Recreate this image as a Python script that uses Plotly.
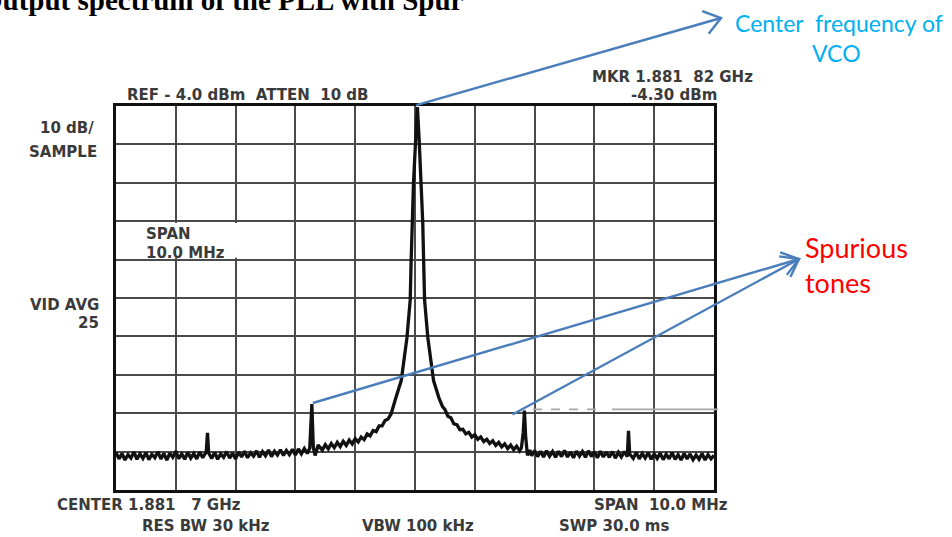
import math
import plotly.graph_objects as go

# ---------------- data ----------------
# frequency offset from centre (MHz, 1 MHz/div, span 10 MHz) and level (dBm)
left_floor_mhz = [
    -5.00, -4.95, -4.90, -4.85, -4.80, -4.75, -4.70, -4.65, -4.60, -4.55, -4.50, -4.45, -4.40, -4.35,
    -4.30, -4.25, -4.20, -4.15, -4.10, -4.05, -4.00, -3.95, -3.90, -3.85, -3.80, -3.75, -3.70, -3.65,
    -3.60, -3.55, -3.50, -3.49, -3.47, -3.45, -3.40, -3.35, -3.30, -3.25, -3.20, -3.15, -3.10, -3.05,
    -3.00, -2.95, -2.90, -2.85, -2.80, -2.75, -2.70, -2.65, -2.60, -2.55, -2.50, -2.45, -2.40, -2.35,
    -2.30, -2.25, -2.20, -2.15, -2.10, -2.05, -2.00, -1.95, -1.90, -1.85, -1.80, -1.76, -1.725, -1.70,
    -1.67, -1.62,
]
left_floor_dbm = [
    -94.2, -95.9, -94.5, -96.2, -94.8, -95.7, -94.1, -96.0, -94.6, -95.8, -94.3, -96.1, -94.7, -95.6,
    -94.0, -95.9, -94.5, -96.2, -94.4, -95.5, -93.9, -95.8, -94.6, -96.0, -94.2, -95.7, -94.5, -95.9,
    -94.1, -95.6, -94.3, -93.8, -89.1, -94.4, -95.8, -94.2, -96.0, -94.6, -95.5, -94.0, -95.7, -94.4,
    -95.9, -94.1, -95.4, -93.9, -95.6, -94.3, -95.2, -93.8, -95.5, -94.0, -95.1, -93.6, -95.3, -93.9,
    -94.9, -93.5, -95.0, -93.7, -94.8, -93.4, -94.9, -93.3, -94.6, -93.2, -94.5, -93.1, -81.6, -93.0,
    -95.0, -92.3,
]
carrier_mhz = [
    -1.55, -1.50, -1.45, -1.40, -1.35, -1.30, -1.25, -1.20, -1.15, -1.10, -1.05, -1.00, -0.95, -0.90,
    -0.85, -0.80, -0.75, -0.70, -0.65, -0.60, -0.55, -0.50, -0.45, -0.40, -0.32, -0.23, -0.135, -0.08,
    -0.065, -0.05, -0.025, 0.01, 0.04, 0.07, 0.105, 0.13, 0.145, 0.16, 0.215, 0.31, 0.40, 0.46, 0.50,
    0.55, 0.60, 0.65, 0.70, 0.75, 0.80, 0.85, 0.90, 0.95, 1.00, 1.05, 1.10, 1.15, 1.20, 1.25, 1.30,
    1.35, 1.40, 1.45, 1.50, 1.55, 1.60, 1.65, 1.70, 1.75, 1.78, 1.81, 1.83, 1.85, 1.88, 1.92,
]
carrier_dbm = [
    -93.6, -92.2, -93.3, -91.9, -93.0, -91.6, -92.7, -91.3, -92.4, -91.0, -92.0, -90.6, -91.5, -90.2,
    -90.9, -89.4, -89.9, -88.5, -88.8, -87.3, -87.3, -85.9, -85.5, -84.2, -80.0, -75.5, -64.4, -54.5,
    -44.6, -34.5, -24.0, -13.0, -4.3, -13.0, -24.0, -34.5, -44.6, -54.5, -64.4, -75.5, -80.0, -82.3, -83.0,
    -84.8, -85.2, -86.8, -87.0, -88.3, -88.2, -89.4, -89.0, -90.2, -89.6, -90.8, -90.2, -91.4, -90.8, -91.9,
    -91.2, -92.4, -91.6, -92.8, -92.0, -93.2, -92.3, -93.5, -92.6, -93.8, -93.0, -89.0, -83.3, -90.0, -95.0,
    -93.6,
]
right_floor_mhz = [
    1.95, 2.00, 2.05, 2.10, 2.15, 2.20, 2.25, 2.30, 2.35, 2.40, 2.45, 2.50, 2.55, 2.60, 2.65, 2.70,
    2.75, 2.80, 2.85, 2.90, 2.95, 3.00, 3.05, 3.10, 3.15, 3.20, 3.25, 3.30, 3.35, 3.40, 3.45, 3.50,
    3.55, 3.57, 3.59, 3.65, 3.70, 3.75, 3.80, 3.85, 3.90, 3.95, 4.00, 4.05, 4.10, 4.15, 4.20, 4.25,
    4.30, 4.35, 4.40, 4.45, 4.50, 4.55, 4.60, 4.65, 4.70, 4.75, 4.80, 4.85, 4.90, 4.95, 5.00,
]
right_floor_dbm = [
    -95.1, -93.7, -95.3, -93.9, -95.4, -93.8, -95.2, -94.0, -95.5, -93.9, -95.3, -93.7, -95.4, -94.1,
    -95.6, -93.9, -95.2, -94.0, -95.5, -93.8, -95.3, -94.0, -95.6, -93.9, -95.4, -94.1, -95.5, -94.0,
    -95.7, -94.2, -95.4, -94.0, -95.3, -88.6, -94.6, -95.8, -94.2, -95.9, -94.5, -95.7, -94.3, -96.0,
    -94.6, -95.8, -94.4, -96.1, -94.7, -95.9, -94.3, -96.0, -94.8, -96.2, -94.5, -95.9, -94.6, -96.1,
    -94.9, -96.0, -94.5, -96.2, -94.8, -95.9, -95.0,
]

REF_LEVEL_DBM = -4.0
DB_PER_DIV = 10
N_DIV = 10
SPAN_MHZ = 10.0
DISPLAY_LINE_DBM = -83.0

peak_point = (0.04, -4.3)
left_spur = (-1.725, -81.6)
right_spur = (1.83, -83.3)

header_left = "REF - 4.0 dBm\u00a0 ATTEN\u00a0 10 dB"
marker_line1 = "MKR 1.881\u00a0 82 GHz"
marker_line2 = "-4.30 dBm"
scale_lines = ["10 dB/", "SAMPLE"]
span_lines = ["SPAN", "10.0 MHz"]
vid_lines = ["VID AVG", "25"]
footer_center = "CENTER 1.881\u00a0\u00a0 7 GHz"
footer_span = "SPAN\u00a0 10.0 MHz"
footer_res = "RES BW 30 kHz"
footer_vbw = "VBW 100 kHz"
footer_swp = "SWP 30.0 ms"
title_text = "Output spectrum of the PLL with Spur"
vco_lines = ["Center\u00a0 frequency of", "VCO"]
spur_lines = ["Spurious", "tones"]

freq_offset_mhz = left_floor_mhz + carrier_mhz + right_floor_mhz
level_dbm = left_floor_dbm + carrier_dbm + right_floor_dbm

# ---------------- geometry ----------------
W, H = 952, 537
L, R, T, B = 116, 238, 106, 47
PW, PH = W - L - R, H - T - B
X0, X1 = -SPAN_MHZ / 2, SPAN_MHZ / 2
Y1 = REF_LEVEL_DBM
Y0 = REF_LEVEL_DBM - DB_PER_DIV * N_DIV


def dpx(x):
    return L + (x - X0) / (X1 - X0) * PW


def dpy(y):
    return T + (Y1 - y) / (Y1 - Y0) * PH


def pp(px, py):
    return (px - L) / PW, (H - B - py) / PH


fig = go.Figure()
fig.add_trace(go.Scatter(
    x=freq_offset_mhz, y=level_dbm, mode="lines",
    line=dict(color="#111111", width=3.3), hoverinfo="skip", showlegend=False,
))

shapes = []

# white box behind the SPAN text (hides grid there)
shapes.append(dict(type="rect", xref="x", yref="y", layer="between",
                   x0=X0 + 0.03, x1=-2.06, y0=-34.45, y1=-43.55,
                   fillcolor="white", line=dict(width=0)))

# display line (dashed part + solid part)
dl_y = dpy(DISPLAY_LINE_DBM)
for xa, xb, dash in [(533, 600, "dash"), (612, 718, "solid")]:
    a = pp(xa, dl_y)
    b = pp(xb, dl_y)
    shapes.append(dict(type="line", xref="paper", yref="paper", x0=a[0], y0=a[1], x1=b[0], y1=b[1],
                       line=dict(color="#a8a8a8", width=1.6, dash=dash)))

ARROW = "#4A7EBB"


def arrow(fx, fy, tx, ty, head=True, length=20, half=36):
    a = pp(fx, fy)
    b = pp(tx, ty)
    shapes.append(dict(type="line", xref="paper", yref="paper", x0=a[0], y0=a[1], x1=b[0], y1=b[1],
                       line=dict(color=ARROW, width=2.4)))
    if head:
        dx, dy = fx - tx, fy - ty
        n = math.hypot(dx, dy)
        ux, uy = dx / n, dy / n
        pts = []
        for s in (1, -1):
            ang = math.radians(half * s)
            rx = ux * math.cos(ang) - uy * math.sin(ang)
            ry = ux * math.sin(ang) + uy * math.cos(ang)
            pts.append(pp(tx + rx * length, ty + ry * length))
        tp = pp(tx, ty)
        path = "M {:.5f},{:.5f} L {:.5f},{:.5f} L {:.5f},{:.5f}".format(
            pts[0][0], pts[0][1], tp[0], tp[1], pts[1][0], pts[1][1])
        shapes.append(dict(type="path", xref="paper", yref="paper", path=path,
                           line=dict(color=ARROW, width=2.4)))


arrow(dpx(peak_point[0]) - 1, dpy(peak_point[1]) - 2, 721, 18)
arrow(dpx(left_spur[0]) + 1, dpy(left_spur[1]) - 1, 799, 259)
arrow(dpx(right_spur[0]) - 12, dpy(right_spur[1]) + 4, 799, 259)

annotations = []
AN_FONT = dict(family="DejaVu Sans", size=15, color="#3a3a3a", weight="bold")


def txt(text, px, py, font, xanchor="center", yanchor="middle"):
    x, y = pp(px, py)
    annotations.append(dict(text=text, x=x, y=y, xref="paper", yref="paper", showarrow=False,
                            xanchor=xanchor, yanchor=yanchor, font=font, borderpad=0))


txt(header_left, 248, 95, AN_FONT)
txt(marker_line1, 672, 77, AN_FONT)
txt(marker_line2, 674, 95, AN_FONT)
txt(scale_lines[0], 95, 128, AN_FONT, xanchor="right")
txt(scale_lines[1], 98, 152, AN_FONT, xanchor="right")
txt(span_lines[0], 145, 234, AN_FONT, xanchor="left")
txt(span_lines[1], 145, 253, AN_FONT, xanchor="left")
txt(vid_lines[0], 100, 305, AN_FONT, xanchor="right")
txt(vid_lines[1], 100, 323, AN_FONT, xanchor="right")
txt(footer_center, 149, 505, AN_FONT)
txt(footer_span, 661, 505, AN_FONT)
txt(footer_res, 206, 526, AN_FONT)
txt(footer_vbw, 418, 526, AN_FONT)
txt(footer_swp, 614, 526, AN_FONT)

txt(title_text, -21, 0, dict(family="Liberation Serif", size=29, color="#000000", weight="bold"),
    xanchor="left")
CYAN = dict(family="Lato", size=23, color="#00B0F0")
txt(vco_lines[0], 839, 23, CYAN)
txt(vco_lines[1], 836, 53, CYAN)
RED = dict(family="Lato", size=27, color="#FF0000")
txt(spur_lines[0], 804, 247, RED, xanchor="left")
txt(spur_lines[1], 804, 282, RED, xanchor="left")

fig.update_layout(
    width=W, height=H, margin=dict(l=L, r=R, t=T, b=B, pad=0),
    paper_bgcolor="white", plot_bgcolor="white",
    shapes=shapes, annotations=annotations, showlegend=False,
    xaxis=dict(range=[X0, X1], dtick=1, tick0=X0, showgrid=True, gridcolor="#4a4a4a", gridwidth=2,
               zeroline=False, showline=True, linecolor="#111111", linewidth=3, mirror=True,
               showticklabels=False, ticks="", fixedrange=True),
    yaxis=dict(range=[Y0, Y1], dtick=DB_PER_DIV, tick0=Y1, showgrid=True, gridcolor="#4a4a4a", gridwidth=2,
               zeroline=False, showline=True, linecolor="#111111", linewidth=3, mirror=True,
               showticklabels=False, ticks="", fixedrange=True),
)

fig.write_html("out.html")
